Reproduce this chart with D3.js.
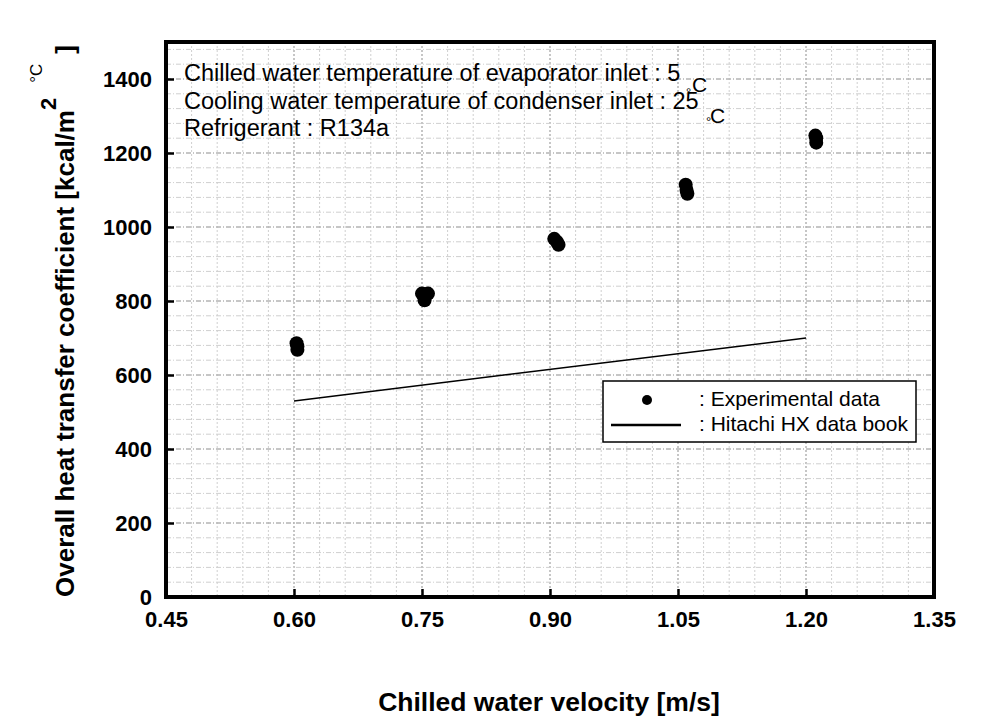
<!DOCTYPE html>
<html>
<head>
<meta charset="utf-8">
<script src="https://cdn.jsdelivr.net/npm/d3@7"></script>
<style>
  html, body { margin: 0; padding: 0; background: #fff; }
  svg { display: block; font-family: "Liberation Sans", Arial, sans-serif; }
</style>
</head>
<body>
<svg id="chart" width="993" height="726"></svg>
<script>
// ---- data ----
const xTickValues = [0.45, 0.60, 0.75, 0.90, 1.05, 1.20, 1.35];
const yTickValues = [0, 200, 400, 600, 800, 1000, 1200, 1400];
const expVelocity = [0.603, 0.604, 0.604, 0.750, 0.757, 0.753, 0.905, 0.908, 0.910, 1.059, 1.060, 1.061, 1.211, 1.212, 1.212];
const expCoeff    = [686, 677, 668, 820, 820, 802, 968, 960, 952, 1114, 1100, 1090, 1247, 1240, 1228];
const hitachiVelocity = [0.60, 1.20];
const hitachiCoeff    = [530, 700];
const annotations = [
  "Chilled water temperature of evaporator inlet : 5",
  "Cooling water temperature of condenser inlet : 25",
  "Refrigerant : R134a"
];
const legendLabels = [": Experimental data", ": Hitachi HX data book"];
const xTitle = "Chilled water velocity [m/s]";

// ---- layout ----
const L = 166, R = 934, T = 42, B = 597;
const svg = d3.select("#chart");
const x = d3.scaleLinear().domain([0.45, 1.35]).range([L, R]);
const y = d3.scaleLinear().domain([0, 1500]).range([B, T]);

// grid
const g = svg.append("g");
const xMinor = d3.range(0, 31).map(i => 0.45 + i * 0.03);
const yMinor = d3.range(0, 38).map(i => i * 40);
g.selectAll(".vg").data(xMinor).enter().append("line")
  .attr("x1", d => x(d)).attr("x2", d => x(d)).attr("y1", T).attr("y2", B)
  .attr("stroke", (d, i) => i % 5 === 0 ? "#b4b4b4" : "#cfcfcf")
  .attr("stroke-width", (d, i) => i % 5 === 0 ? 1.5 : 1)
  .attr("stroke-dasharray", "2,2");
g.selectAll(".hg").data(yMinor).enter().append("line")
  .attr("x1", L).attr("x2", R).attr("y1", d => y(d)).attr("y2", d => y(d))
  .attr("stroke", (d, i) => i % 5 === 0 ? "#b4b4b4" : "#cfcfcf")
  .attr("stroke-width", (d, i) => i % 5 === 0 ? 1.5 : 1)
  .attr("stroke-dasharray", "5,2,1,2");

// axes (ticks inward)
const xAxis = d3.axisBottom(x).tickValues(xTickValues).tickSize(-8).tickPadding(14)
  .tickFormat(d3.format(".2f"));
const yAxis = d3.axisLeft(y).tickValues(yTickValues).tickSize(-8).tickPadding(14)
  .tickFormat(d3.format("d"));
const gx = svg.append("g").attr("transform", `translate(0,${B})`).call(xAxis);
const gy = svg.append("g").attr("transform", `translate(${L},0)`).call(yAxis);
[gx, gy].forEach(a => {
  a.select(".domain").remove();
  a.selectAll(".tick line").attr("stroke", "#000").attr("stroke-width", 2.5);
  a.selectAll(".tick text").attr("fill", "#000")
    .style("font-size", "22px").style("font-weight", "bold")
    .style("font-family", "'Liberation Sans', Arial, sans-serif");
});

// frame
svg.append("rect").attr("x", L).attr("y", T).attr("width", R - L).attr("height", B - T)
  .attr("fill", "none").attr("stroke", "#000").attr("stroke-width", 4);

// Hitachi line
const lineGen = d3.line().x(d => x(d[0])).y(d => y(d[1]));
svg.append("path").datum(hitachiVelocity.map((v, i) => [v, hitachiCoeff[i]]))
  .attr("d", lineGen).attr("fill", "none").attr("stroke", "#000").attr("stroke-width", 1.5);

// experimental points
svg.append("g").selectAll("circle").data(expVelocity.map((v, i) => [v, expCoeff[i]]))
  .enter().append("circle")
  .attr("cx", d => x(d[0])).attr("cy", d => y(d[1])).attr("r", 7).attr("fill", "#000");

// annotations
const ann = svg.append("g").style("font-size", "23.5px").attr("fill", "#000");
ann.selectAll("text").data(annotations).enter().append("text")
  .attr("x", 184).attr("y", (d, i) => 81 + i * 27.5).text(d => d);
// stray degree-C marks
const degMarks = [[686, 97, 692, 92], [706, 126, 710, 123]];
degMarks.forEach(m => {
  ann.append("text").attr("x", m[0]).attr("y", m[1]).style("font-size", "13px").text("°");
  ann.append("text").attr("x", m[2]).attr("y", m[3]).style("font-size", "21px").text("C");
});

// legend
const lg = svg.append("g");
lg.append("rect").attr("x", 603).attr("y", 381).attr("width", 313).attr("height", 61)
  .attr("fill", "#fff").attr("stroke", "#000").attr("stroke-width", 1.5);
lg.append("circle").attr("cx", 647).attr("cy", 400).attr("r", 5).attr("fill", "#000");
lg.append("line").attr("x1", 611).attr("x2", 681).attr("y1", 425).attr("y2", 425)
  .attr("stroke", "#000").attr("stroke-width", 2.5);
lg.selectAll("text").data(legendLabels).enter().append("text")
  .attr("x", 699).attr("y", (d, i) => 406 + i * 25).style("font-size", "21px").text(d => d);

// x title
svg.append("text").attr("x", 549).attr("y", 711).attr("text-anchor", "middle")
  .style("font-size", "26.5px").style("font-weight", "bold").text(xTitle);

// y title
const yt = svg.append("text").attr("transform", "translate(74,597) rotate(-90)")
  .style("font-size", "26px").style("font-weight", "bold");
yt.append("tspan").attr("x", 0).attr("y", 0).text("Overall heat transfer coefficient [kcal/m");
yt.append("tspan").attr("dy", -18).style("font-size", "22px").text("2");
yt.append("tspan").attr("dy", -14).attr("dx", 15).style("font-size", "17px").style("font-weight", "normal").text("°C");
yt.append("tspan").attr("dy", 32).attr("dx", 10).text("]");
</script>
</body>
</html>
